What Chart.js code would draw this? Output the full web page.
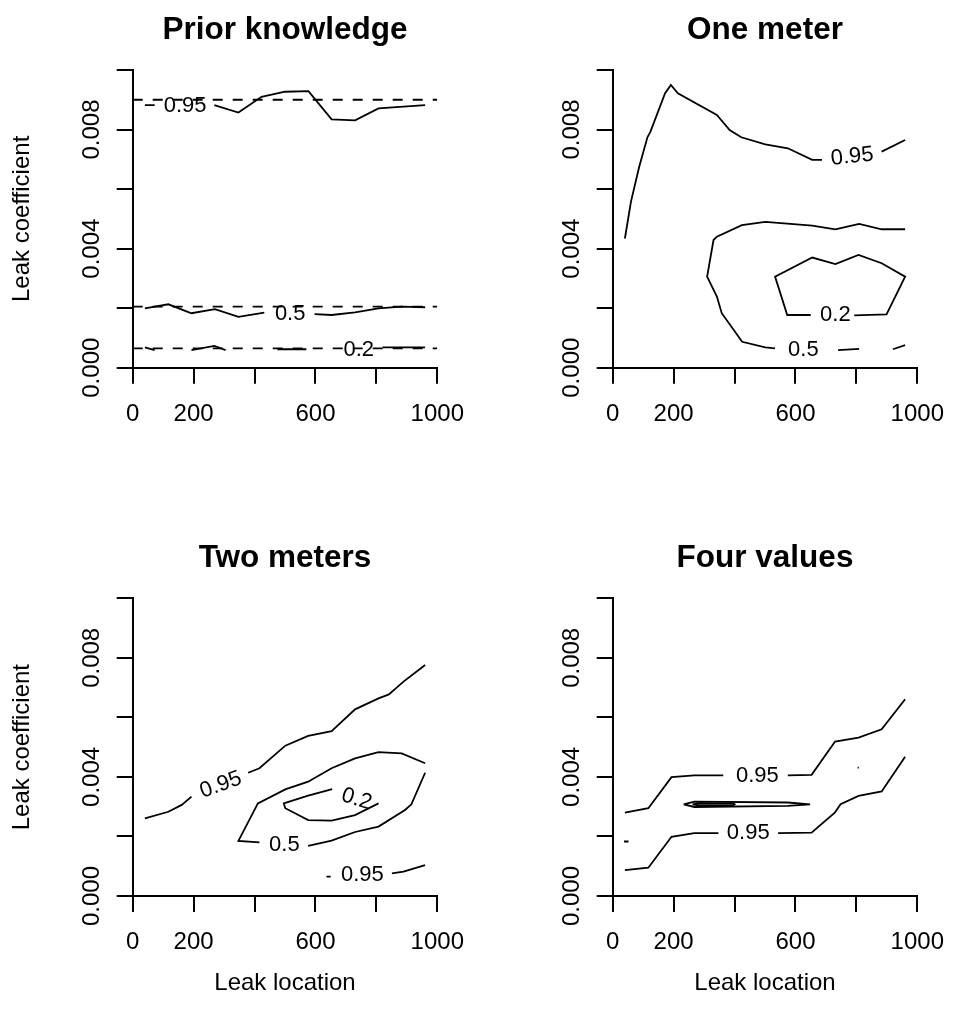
<!DOCTYPE html>
<html>
<head>
<meta charset="utf-8">
<script src="https://cdn.jsdelivr.net/npm/chart.js@4.4.1/dist/chart.umd.min.js"></script>
<style>
  html, body { margin: 0; padding: 0; background: #fff; }
  #grid { position: relative; width: 960px; height: 1024px; }
  #grid canvas { position: absolute; }
</style>
</head>
<body>
<div id="grid">
  <canvas id="p0" width="480" height="512" style="left:0;top:0"></canvas>
  <canvas id="p1" width="480" height="512" style="left:480px;top:0"></canvas>
  <canvas id="p2" width="480" height="512" style="left:0;top:512px"></canvas>
  <canvas id="p3" width="480" height="512" style="left:480px;top:512px"></canvas>
</div>
<script>
// ---- data ----
var panelTitles = ["Prior knowledge", "One meter", "Two meters", "Four values"];
var xTicks = [0, 200, 400, 600, 800, 1000];
var xTickLabels = ["0", "200", "", "600", "", "1000"];
var yTicks = [0, 0.002, 0.004, 0.006, 0.008, 0.010];
var yTickLabels = ["0.000", "", "0.004", "", "0.008", ""];

// prior knowledge: dashed prior levels + posterior contours (broken at labels)
var priorDashed = [
  [[0, 0.0090], [1000, 0.0090]],
  [[0, 0.00205], [1000, 0.00205]],
  [[0, 0.00065], [1000, 0.00065]]
];
var priorLines = [
  [[40, 0.00882], [72, 0.00882]],
  [[268, 0.00882], [347, 0.00857], [423, 0.00910], [500, 0.00927], [577, 0.00929],
   [653, 0.00834], [730, 0.00831], [807, 0.00871], [960, 0.00882]],
  [[40, 0.00199], [117, 0.00213], [193, 0.00183], [270, 0.00197], [347, 0.00171], [432, 0.00185]],
  [[597, 0.00180], [653, 0.00177], [730, 0.00186], [807, 0.00199], [883, 0.00205], [960, 0.00203]],
  [[40, 0.00068], [72, 0.00059]],
  [[193, 0.00059], [268, 0.00073], [305, 0.00059]],
  [[475, 0.00062], [570, 0.00062]],
  [[820, 0.00068], [960, 0.00068]]
];
var priorLabels = [["0.95", 172, 0.00878, 0], ["0.5", 517, 0.00180, 0], ["0.2", 742, 0.00058, 0]];

var oneMeterLines = [
  [[40, 0.00434], [60, 0.00558], [87, 0.00675], [114, 0.00774], [124, 0.00793], [172, 0.00922],
   [191, 0.00950], [214, 0.00922], [342, 0.00849], [384, 0.00798], [422, 0.00774], [501, 0.00750],
   [575, 0.00737], [655, 0.00698], [687, 0.00698]],
  [[883, 0.00726], [960, 0.00765]],
  [[960, 0.00465], [883, 0.00465], [809, 0.00483], [731, 0.00465], [655, 0.00477], [501, 0.00490],
   [424, 0.00479], [342, 0.00440], [331, 0.00429], [310, 0.00306], [342, 0.00239], [358, 0.00183],
   [425, 0.00087], [501, 0.00068], [533, 0.00065]],
  [[740, 0.00059], [809, 0.00063]],
  [[920, 0.00062], [960, 0.00076]],
  [[650, 0.00177], [573, 0.00177], [533, 0.00306], [655, 0.00370], [731, 0.00348], [807, 0.00379],
   [883, 0.00351], [960, 0.00306], [899, 0.00179], [793, 0.00176]]
];
var oneMeterLabels = [["0.95", 786, 0.00709, -6], ["0.2", 731, 0.00177, 0], ["0.5", 626, 0.00059, 0]];

var twoMeterLines = [
  [[40, 0.00261], [117, 0.00283], [161, 0.00306], [193, 0.00334]],
  [[379, 0.00414], [416, 0.00429], [501, 0.00505], [576, 0.00538], [653, 0.00554], [730, 0.00627],
   [807, 0.00664], [841, 0.00677], [889, 0.00720], [960, 0.00776]],
  [[960, 0.00446], [883, 0.00479], [807, 0.00483], [730, 0.00462], [653, 0.00429], [576, 0.00384],
   [501, 0.00358], [411, 0.00311], [347, 0.00185], [416, 0.00180]],
  [[576, 0.00168], [653, 0.00186], [730, 0.00215], [807, 0.00233], [894, 0.00289], [915, 0.00308],
   [960, 0.00414]],
  [[655, 0.00359], [576, 0.00337], [496, 0.00311], [501, 0.00295], [576, 0.00255], [653, 0.00253],
   [730, 0.00272], [807, 0.00311]],
  [[636, 0.00065], [650, 0.00065]],
  [[851, 0.00076], [889, 0.00082], [960, 0.00104]]
];
var twoMeterLabels = [["0.95", 289, 0.00373, -20], ["0.2", 735, 0.00325, 17],
                      ["0.5", 498, 0.00171, 0], ["0.95", 754, 0.00071, 0]];

var fourValueLines = [
  [[40, 0.00280], [117, 0.00295], [193, 0.00399], [268, 0.00405], [363, 0.00405]],
  [[575, 0.00405], [653, 0.00407], [730, 0.00519], [807, 0.00532], [883, 0.00560], [960, 0.00661]],
  [[40, 0.00087], [117, 0.00095], [193, 0.00199], [268, 0.00211], [347, 0.00211]],
  [[543, 0.00211], [653, 0.00213], [729, 0.00280], [748, 0.00308], [807, 0.00336], [883, 0.00351],
   [960, 0.00468]],
  [[233, 0.00308], [268, 0.00317], [575, 0.00314], [648, 0.00308], [575, 0.00303], [268, 0.00299],
   [233, 0.00308]],
  [[262, 0.00308], [285, 0.00312], [395, 0.00311], [400, 0.00308], [395, 0.00305], [285, 0.00304],
   [262, 0.00308]],
  [[37, 0.00183], [52, 0.00183]],
  [[804, 0.00431], [808, 0.00431]]
];
var fourValueLabels = [["0.95", 475, 0.00403, 0], ["0.95", 445, 0.00211, 0]];

// ---- drawing ----
var FONT = "'Liberation Sans', Arial, Helvetica, sans-serif";

var contourLabels = {
  id: "contourLabels",
  afterDatasetsDraw: function (chart, args, opts) {
    var ctx = chart.ctx, sx = chart.scales.x, sy = chart.scales.y;
    ctx.save();
    ctx.font = "22px " + FONT;
    ctx.fillStyle = "#000";
    ctx.textAlign = "center";
    ctx.textBaseline = "middle";
    (opts.items || []).forEach(function (l) {
      ctx.save();
      ctx.translate(sx.getPixelForValue(l[1]), sy.getPixelForValue(l[2]));
      ctx.rotate(l[3] * Math.PI / 180);
      ctx.fillText(l[0], 0, 0);
      ctx.restore();
    });
    ctx.restore();
  }
};

function toDataset(line, dashed) {
  return {
    data: line.map(function (p) { return { x: p[0], y: p[1] }; }),
    showLine: true,
    borderColor: "#000",
    borderWidth: 1.8,
    borderDash: dashed ? [10, 10] : [],
    pointRadius: 0,
    tension: 0,
    fill: false
  };
}

function makePanel(id, idx, lines, dashed, labels) {
  var top = idx < 2, left = idx % 2 === 0;
  var areaTop = top ? 70 : 86.3;
  var areaBottom = top ? 367.7 : 384;
  var titleCenter = top ? 30 : 46;
  var lh = 31.5 * 1.2;
  var datasets = (dashed || []).map(function (l) { return toDataset(l, true); })
    .concat(lines.map(function (l) { return toDataset(l, false); }));

  new Chart(document.getElementById(id), {
    type: "scatter",
    data: { datasets: datasets },
    plugins: [contourLabels],
    options: {
      responsive: false,
      animation: false,
      events: [],
      layout: { padding: { left: 0, right: 33.3, top: 0, bottom: 0 } },
      plugins: {
        legend: { display: false },
        tooltip: { enabled: false },
        title: {
          display: true,
          fullSize: false,
          text: panelTitles[idx],
          color: "#000",
          font: { family: FONT, size: 31.5, weight: "bold", lineHeight: 1.2 },
          padding: { top: titleCenter - lh / 2, bottom: areaTop - titleCenter - lh / 2 }
        },
        contourLabels: { items: labels }
      },
      scales: {
        x: {
          type: "linear",
          min: 0,
          max: 1000,
          afterBuildTicks: function (s) { s.ticks = xTicks.map(function (v) { return { value: v }; }); },
          afterFit: function (s) { s.height = 512 - areaBottom; },
          ticks: {
            autoSkip: false,
            maxRotation: 0,
            padding: 16,
            color: "#000",
            font: { family: FONT, size: 24, lineHeight: 1.2 },
            callback: function (v, i) { return xTickLabels[i]; }
          },
          grid: { display: true, drawOnChartArea: false, drawTicks: true, tickLength: 16,
                  color: "#000", lineWidth: 2 },
          border: { display: true, color: "#000", width: 2 },
          title: {
            display: !top,
            text: "Leak location",
            color: "#000",
            font: { family: FONT, size: 24, lineHeight: 1.2 },
            padding: { top: 0, bottom: 26.6 }
          }
        },
        y: {
          type: "linear",
          min: 0,
          max: 0.01,
          afterBuildTicks: function (s) { s.ticks = yTicks.map(function (v) { return { value: v }; }); },
          afterFit: function (s) { s.width = 132.7; },
          ticks: {
            autoSkip: false,
            minRotation: 90,
            maxRotation: 90,
            crossAlign: "center",
            padding: -5.8,
            color: "#000",
            font: { family: FONT, size: 24, lineHeight: 1.2 },
            callback: function (v, i) { return yTickLabels[i]; }
          },
          grid: { display: true, drawOnChartArea: false, drawTicks: true, tickLength: 16,
                  color: "#000", lineWidth: 2 },
          border: { display: true, color: "#000", width: 2 },
          title: {
            display: left,
            text: "Leak coefficient",
            color: "#000",
            font: { family: FONT, size: 24, lineHeight: 1.2 },
            padding: { top: 8.1, bottom: 0 }
          }
        }
      }
    }
  });
}

makePanel("p0", 0, priorLines, priorDashed, priorLabels);
makePanel("p1", 1, oneMeterLines, null, oneMeterLabels);
makePanel("p2", 2, twoMeterLines, null, twoMeterLabels);
makePanel("p3", 3, fourValueLines, null, fourValueLabels);
</script>
</body>
</html>
